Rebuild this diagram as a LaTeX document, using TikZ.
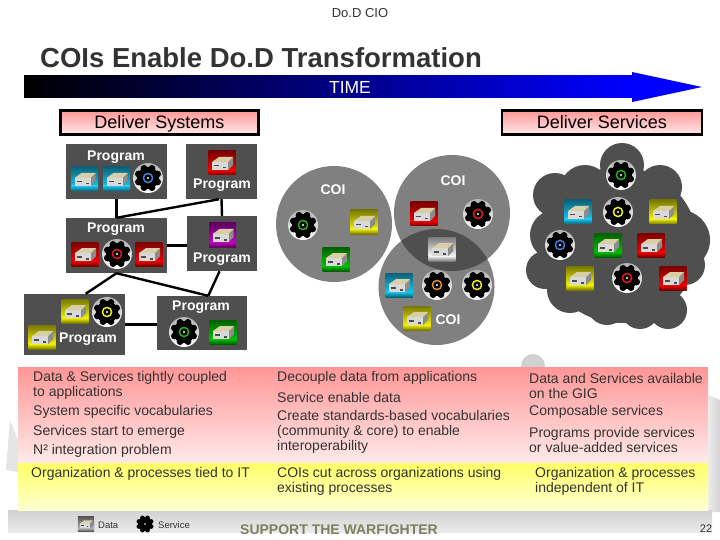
\documentclass[tikz,border=0pt]{standalone}
\usepackage{fontspec}
\setmainfont{Liberation Sans}
\usetikzlibrary{arrows.meta,positioning,calc}
\definecolor{ink}{HTML}{333333}
\definecolor{slate}{HTML}{4F4F4F}
\definecolor{coigray}{HTML}{808080}
\definecolor{rosedeep}{HTML}{FF9696}
\definecolor{roselight}{HTML}{FFEAEA}
\definecolor{lemondeep}{HTML}{FFFF66}
\definecolor{lemonlight}{HTML}{FFFFD2}
\definecolor{olive}{HTML}{7F7F5F}
\definecolor{cyanbar}{HTML}{16C4F0}
\definecolor{redbar}{HTML}{F00000}
\definecolor{yellowbar}{HTML}{F0F000}
\definecolor{greenbar}{HTML}{00C000}
\definecolor{purplebar}{HTML}{C000C0}
\definecolor{whitebar}{HTML}{F4F4F4}
\definecolor{graybar}{HTML}{B0B0B0}
\definecolor{ringblue}{HTML}{3F7FE0}
\definecolor{ringred}{HTML}{E01C1C}
\definecolor{ringgreen}{HTML}{22B022}
\definecolor{ringyellow}{HTML}{F0F020}
\definecolor{ringorange}{HTML}{E09030}
\definecolor{boxtop}{HTML}{D8CFA8}
\tikzset{
  every node/.style={font=\fontsize{13}{15}\selectfont,text=ink},
  link/.style={line width=2.4pt,draw=black},
  progbox/.style={fill=slate,inner sep=0},
  proglabel/.style={font=\bfseries\fontsize{14}{16}\selectfont,text=white,inner sep=0},
  coilabel/.style={font=\bfseries\fontsize{14}{16}\selectfont,text=white,inner sep=0},
  phase/.style={draw=black,line width=2.5pt,top color=rosedeep,bottom color=roselight,inner sep=0,minimum height=24,text height=13,text depth=0,font=\fontsize{18}{20}\selectfont,text=black},
  bodytext/.style={font=\fontsize{14}{15}\selectfont,anchor=west,align=left,inner sep=0},
  pics/datacan/.style={code={
    \shade[top color=#1!50!black,bottom color=#1] (-13.5,-12) rectangle (13.5,7);
    \shade[top color=#1,bottom color=#1!50!black] (-13.5,7) rectangle (13.5,12);
    \fill[black!45] (6,-1) -- (11,-6) -- (11,2) -- (6,7) -- cycle;
    \fill[black!15] (-10,-1) rectangle (6,7);
    \fill[boxtop] (-10,-1) -- (-3,-6) -- (11,-6) -- (6,-1) -- cycle;
    \fill[black!70] (-8,2) rectangle (-3,3.5);
    \fill[black!70] (1,4) rectangle (4,5.5);
  }},
  pics/cogwheel/.style={code={
    \fill[black] (0,0) circle (11);
    \foreach \a in {22.5,67.5,...,337.5} {\fill[black] (\a:10.4) circle (3.4);}
    \draw[#1,line width=1.5pt] (0,0) circle (4.6);
    \fill[white] (0,0) circle (1.2);
  }},
  pics/service/.style={code={
    \shade[top color=black!30,bottom color=white] (0,0) circle (15);
    \pic {cogwheel=#1};
  }}
}
\begin{document}
\begin{tikzpicture}[x=1pt,y=-1pt]
  \path[use as bounding box] (0,0) rectangle (720,540);

  % faint photo behind the lower panels
  \fill[black!18] (533,366) circle (12);
  \shade[left color=white,right color=black!18] (700,392) -- (720,400) -- (720,512) -- (700,512) -- cycle;
  \fill[black!10] (6,470) -- (10,420) -- (18,440) -- (18,472) -- cycle;
  \shade[top color=black!18,bottom color=black!8] (8,510) rectangle (712,532);

  \shade[top color=rosedeep,bottom color=roselight] (18,367) rectangle (708,463);
  \shade[top color=lemondeep,bottom color=lemonlight] (18,463) rectangle (708,510);

  \node[inner sep=0] (office) at (360,13) {Do.D CIO};
  \node[anchor=west,inner sep=0,font=\bfseries\fontsize{27.5}{30}\selectfont] (title) at (40,58) {COIs Enable Do.D Transformation};

  % time arrow
  \fill[blue] (632,76) -- (632,72) -- (702,87) -- (632,102) -- (632,98) -- cycle;
  \shade[left color=black,right color=blue] (24,76) rectangle (633,98);
  \node[text=white,font=\fontsize{17.5}{20}\selectfont,inner sep=0] (time) at (350,87) {TIME};

  \node[phase,minimum width=198] (systems) at (159.5,122.5) {Deliver Systems};
  \node[phase,minimum width=200] (services) at (602,122.5) {Deliver Services};

  % program boxes
  \node[progbox,minimum width=101,minimum height=55] (prog1) at (116.5,171.5) {};
  \node[progbox,minimum width=71,minimum height=55] (prog2) at (221.5,171.5) {};
  \node[progbox,minimum width=101,minimum height=55] (prog3) at (116.5,245.5) {};
  \node[progbox,minimum width=70,minimum height=55] (prog4) at (222,243.5) {};
  \node[progbox,minimum width=101,minimum height=61] (prog5) at (74.5,324.5) {};
  \node[progbox,minimum width=90,minimum height=54] (prog6) at (202,323) {};
  \draw[link] (prog1.south) -- (prog3.north);
  \draw[link] (prog2.south) -- (prog4.north);
  \draw[link] (prog2.265) -- (prog3.north);
  \draw[link] (prog3.east) -- (prog3.east -| prog4.west);
  \draw[link] (prog3.south) -- (prog5.70);
  \draw[link] (prog3.south) -- (prog6.77);
  \draw[link] (prog4.265) -- (prog6.77);
  \draw[link] (prog5.east) -- (prog5.east -| prog6.west);

  \node[proglabel] (name1) at (116,157) {Program};
  \node[proglabel] (name2) at (222,185) {Program};
  \node[proglabel] (name3) at (116,229) {Program};
  \node[proglabel] (name4) at (222,259) {Program};
  \node[proglabel] (name5) at (88,339) {Program};
  \node[proglabel] (name6) at (201,307) {Program};

  \foreach \x/\y/\c in {84.5/179/cyanbar,116.5/179/cyanbar,222/163/redbar,85/254/redbar,149/254/redbar,222.5/235/purplebar,75/311/yellowbar,42/337/yellowbar,223/332/greenbar} {\pic at (\x,\y) {datacan=\c};}
  \foreach \x/\y/\c in {148/178/ringblue,117/254/ringred,107/312/ringyellow,184/332/ringgreen} {\pic at (\x,\y) {service=\c};}

  % communities
  \fill[coigray] (334,224) circle (58);
  \fill[coigray] (452,213) circle (58);
  \fill[coigray] (436.5,287) circle (58);
  \begin{scope}
    \clip (452,213) circle (58);
    \fill[slate] (436.5,287) circle (58);
  \end{scope}
  \node[coilabel] (coi1) at (333,190) {COI};
  \node[coilabel] (coi2) at (453,181) {COI};
  \node[coilabel] (coi3) at (448,320) {COI};
  \foreach \x/\y/\c in {364/222/yellowbar,336/259/greenbar,424/214/redbar,442/249/whitebar,399/285/cyanbar,417/318/yellowbar} {\pic at (\x,\y) {datacan=\c};}
  \foreach \x/\y/\c in {303/225/ringgreen,478/214/ringred,437/285/ringorange,477/285/ringyellow} {\pic at (\x,\y) {service=\c};}

  % service cloud
  \foreach \x/\y/\r in {622/165/22,660/187/22,680/240/30,685/265/20,668/310/19,640/310/19,607/305/20,570/290/23,545/270/19,555/235/25,555/195/22,585/190/25,620/245/78} {\fill[slate] (\x,\y) circle (\r);}
  \foreach \x/\y/\c in {578/212/cyanbar,663/212/yellowbar,608/245/greenbar,651/245/redbar,580/278/yellowbar,673/278/redbar} {\pic at (\x,\y) {datacan=\c};}
  \foreach \x/\y/\c in {621/175/ringgreen,618/212/ringyellow,560/245/ringblue,627/278/ringred} {\pic at (\x,\y) {service=\c};}

  % panel text
  \node[bodytext] (left1) at (33,385.5) {Data \& Services tightly coupled\\to applications};
  \node[bodytext] (left2) at (33,412) {System specific vocabularies};
  \node[bodytext] (left3) at (33,432) {Services start to emerge};
  \node[bodytext] (left4) at (33,451) {N² integration problem};
  \node[bodytext] (left5) at (31,474) {Organization \& processes tied to IT};
  \node[bodytext] (mid1) at (277,378) {Decouple data from applications};
  \node[bodytext] (mid2) at (277,397) {Service enable data};
  \node[bodytext] (mid3) at (277,432) {Create standards-based vocabularies\\(community \& core) to enable\\interoperability};
  \node[bodytext] (mid4) at (277,481.5) {COIs cut across organizations using\\existing processes};
  \node[bodytext] (right1) at (529,385.5) {Data and Services available\\on the GIG};
  \node[bodytext] (right2) at (529,412) {Composable services};
  \node[bodytext] (right3) at (529,439.5) {Programs provide services\\or value-added services};
  \node[bodytext] (right4) at (535,481.5) {Organization \& processes\\independent of IT};

  % legend and footer
  \pic[scale=.6] at (86,524) {datacan=graybar};
  \node[anchor=west,inner sep=0,font=\fontsize{9.5}{11}\selectfont] (legdata) at (98,525) {Data};
  \pic[scale=.65] at (145,524) {cogwheel=black};
  \node[anchor=west,inner sep=0,font=\fontsize{9.5}{11}\selectfont] (legservice) at (158,525) {Service};
  \node[anchor=west,inner sep=0,text=olive,font=\bfseries\fontsize{14}{16}\selectfont] (support) at (240,530) {SUPPORT THE WARFIGHTER};
  \node[inner sep=0,font=\fontsize{11}{13}\selectfont] (page) at (706,529) {22};
\end{tikzpicture}
\end{document}
